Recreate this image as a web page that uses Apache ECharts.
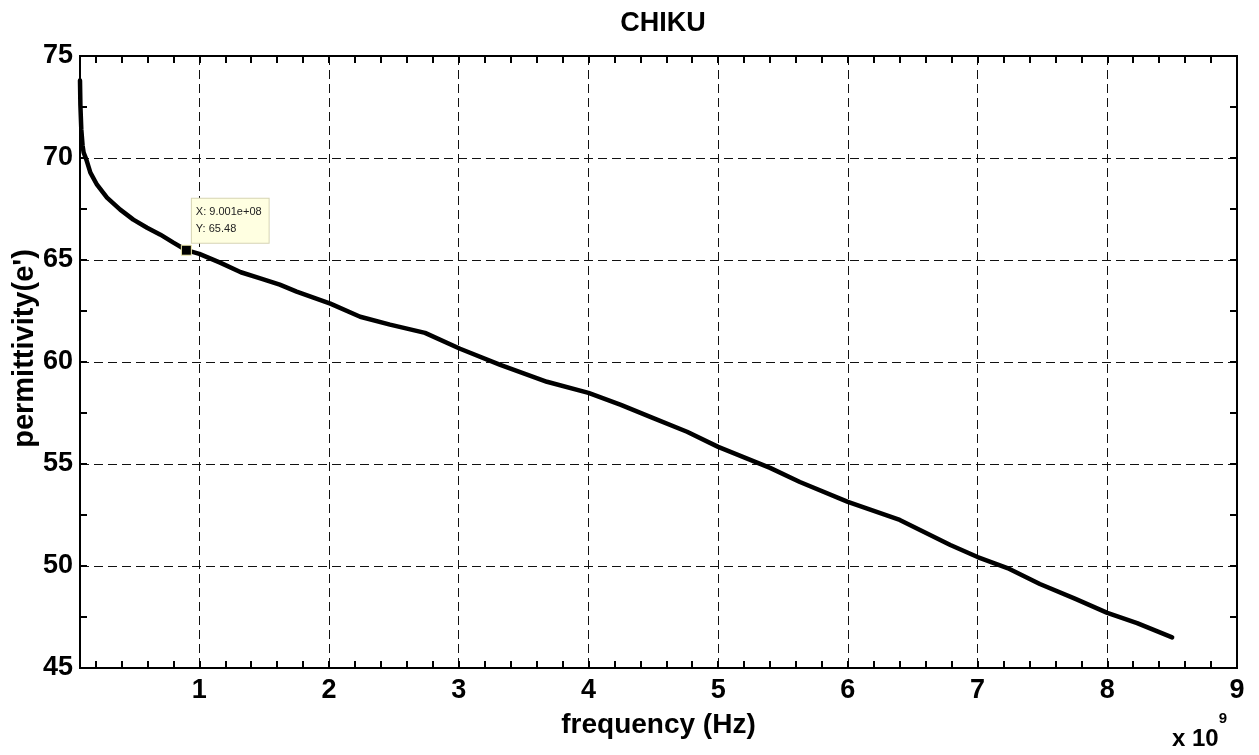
<!DOCTYPE html>
<html>
<head>
<meta charset="utf-8">
<script src="https://cdn.jsdelivr.net/npm/echarts@6/dist/echarts.min.js"></script>
<style>html,body{margin:0;padding:0;background:#fff}#chart{width:1259px;height:755px}</style>
</head>
<body>
<div id="chart"></div>
<script>
// frequency in units of 1e9 Hz (axis shows "x 10^9")
const frequency = [0.08, 0.083, 0.09, 0.1, 0.108, 0.129, 0.16, 0.211, 0.288, 0.39, 0.491, 0.597, 0.70, 0.80, 0.9001, 1.0, 1.16, 1.32, 1.47, 1.62, 1.75, 2.01, 2.24, 2.47, 2.74, 3.01, 3.32, 3.68, 4.0, 4.25, 4.5, 4.76, 5.0, 5.4, 5.63, 6.0, 6.4, 6.79, 7.0, 7.23, 7.48, 7.75, 8.0, 8.23, 8.5];
const permittivity = [73.8, 72.6, 71.4, 70.6, 70.27, 69.92, 69.28, 68.69, 68.06, 67.47, 66.98, 66.58, 66.24, 65.85, 65.48, 65.3, 64.87, 64.4, 64.1, 63.79, 63.45, 62.86, 62.22, 61.83, 61.43, 60.65, 59.86, 59.03, 58.49, 57.9, 57.25, 56.58, 55.84, 54.81, 54.12, 53.14, 52.26, 51.03, 50.44, 49.9, 49.12, 48.4, 47.7, 47.2, 46.5];
const xTickLabels = [1, 2, 3, 4, 5, 6, 7, 8, 9];
const xGridValues = [1, 2, 3, 4, 5, 6, 7, 8];
const xMinorTicks = [0.2, 0.4, 0.6, 0.8, 1.0, 1.2, 1.4, 1.6, 1.8, 2.0, 2.2, 2.4, 2.6, 2.8, 3.0, 3.2, 3.4, 3.6, 3.8, 4.0, 4.2, 4.4, 4.6, 4.8, 5.0, 5.2, 5.4, 5.6, 5.8, 6.0, 6.2, 6.4, 6.6, 6.8, 7.0, 7.2, 7.4, 7.6, 7.8, 8.0, 8.2, 8.4, 8.6, 8.8];
const xMin = 0.08, xMax = 9;
const yMin = 45, yMax = 75, yStep = 5;
const datatip = {x: 0.9001, y: 65.48, xText: '9.001e+08', yText: '65.48'};

const sans = "'Liberation Sans', Arial, sans-serif";

const chart = echarts.init(document.getElementById('chart'), null, {renderer: 'canvas'});
const tickLabelStyle = {color: '#000', fontFamily: sans, fontWeight: 'bold', fontSize: 27};
const axisLineStyle = {show: true, lineStyle: {color: '#000', width: 2}};

const option = {
  animation: false,
  backgroundColor: '#fff',
  title: {
    text: 'CHIKU', left: 658, top: 5, textAlign: 'center',
    textStyle: {color: '#000', fontFamily: sans, fontWeight: 'bold', fontSize: 27}
  },
  grid: {left: 80, right: 22, top: 56, bottom: 87, containLabel: false, outerBoundsMode: 'none',
         show: true, borderColor: '#000', borderWidth: 2, backgroundColor: '#fff'},
  xAxis: [
    { type: 'value', position: 'bottom', min: xMin, max: xMax,
      name: 'frequency (Hz)', nameLocation: 'middle', nameGap: 43, nameMoveOverlap: false,
      nameTextStyle: {color: '#000', fontFamily: sans, fontWeight: 'bold', fontSize: 28},
      axisLine: axisLineStyle,
      axisTick: {show: true, inside: true, length: 7, customValues: xMinorTicks, lineStyle: {color: '#000', width: 2}},
      axisLabel: Object.assign({show: true, margin: 9, customValues: xTickLabels, formatter: v => String(Math.round(v))}, tickLabelStyle),
      splitLine: {show: false}
    },
    { type: 'value', position: 'top', min: xMin, max: xMax,
      axisLine: axisLineStyle,
      axisTick: {show: true, inside: true, length: 7, customValues: xMinorTicks, lineStyle: {color: '#000', width: 2}},
      axisLabel: {show: false},
      splitLine: {show: false}
    },
    { type: 'value', position: 'bottom', min: xMin, max: xMax,
      axisLine: {show: false},
      axisTick: {show: false, customValues: xGridValues},
      axisLabel: {show: false, customValues: xGridValues},
      splitLine: {show: true, lineStyle: {color: '#111', width: 1, type: [9, 5]}}
    }
  ],
  yAxis: [
    { type: 'value', position: 'left', min: yMin, max: yMax, interval: yStep,
      name: "permittivity(e')", nameLocation: 'middle', nameGap: 41, nameRotate: 90, nameMoveOverlap: false,
      nameTextStyle: {color: '#000', fontFamily: sans, fontWeight: 'bold', fontSize: 29, padding: [0, 0, 0, 27]},
      axisLine: axisLineStyle,
      axisTick: {show: true, inside: true, length: 7, lineStyle: {color: '#000', width: 2}},
      minorTick: {show: true, splitNumber: 2, length: 7, lineStyle: {color: '#000', width: 2}},
      axisLabel: Object.assign({show: true, margin: 7}, tickLabelStyle),
      splitLine: {show: true, lineStyle: {color: '#111', width: 1, type: [9, 5]}}
    },
    { type: 'value', position: 'right', min: yMin, max: yMax, interval: yStep,
      axisLine: axisLineStyle,
      axisTick: {show: true, inside: true, length: 7, lineStyle: {color: '#000', width: 2}},
      minorTick: {show: true, splitNumber: 2, length: 7, lineStyle: {color: '#000', width: 2}},
      axisLabel: {show: false},
      splitLine: {show: false}
    }
  ],
  graphic: [
    { type: 'text', left: 1172, top: 711, z: 100,
      style: {
        text: '{a|x 10}{s|9}',
        rich: {
          a: {fontFamily: sans, fontWeight: 'bold', fontSize: 24, fill: '#000', verticalAlign: 'bottom', lineHeight: 40},
          s: {fontFamily: sans, fontWeight: 'bold', fontSize: 15, fill: '#000', verticalAlign: 'top', lineHeight: 40, padding: [0, 0, 18, 0]}
        }
      }
    }
  ],
  series: [
    {
      type: 'line', xAxisIndex: 0, yAxisIndex: 0, z: 3,
      data: frequency.map((f, i) => [f, permittivity[i]]),
      showSymbol: false, symbol: 'none', smooth: false,
      lineStyle: {color: '#000', width: 4.5, join: 'round', cap: 'round'},
      markPoint: {
        symbol: 'rect', symbolSize: 10, z: 10,
        itemStyle: {color: '#000', borderColor: '#f4f0b0', borderWidth: 1},
        label: {
          show: true, position: [11, -46],
          formatter: () => 'X: ' + datatip.xText + '\nY: ' + datatip.yText,
          color: '#222', fontFamily: sans, fontSize: 11, lineHeight: 17,
          align: 'left', verticalAlign: 'top',
          backgroundColor: '#ffffe1', borderColor: '#d6d4b4', borderWidth: 1,
          padding: [5, 7, 5, 4]
        },
        data: [{coord: [datatip.x, datatip.y]}]
      }
    }
  ]
};
chart.setOption(option);
</script>
</body>
</html>
